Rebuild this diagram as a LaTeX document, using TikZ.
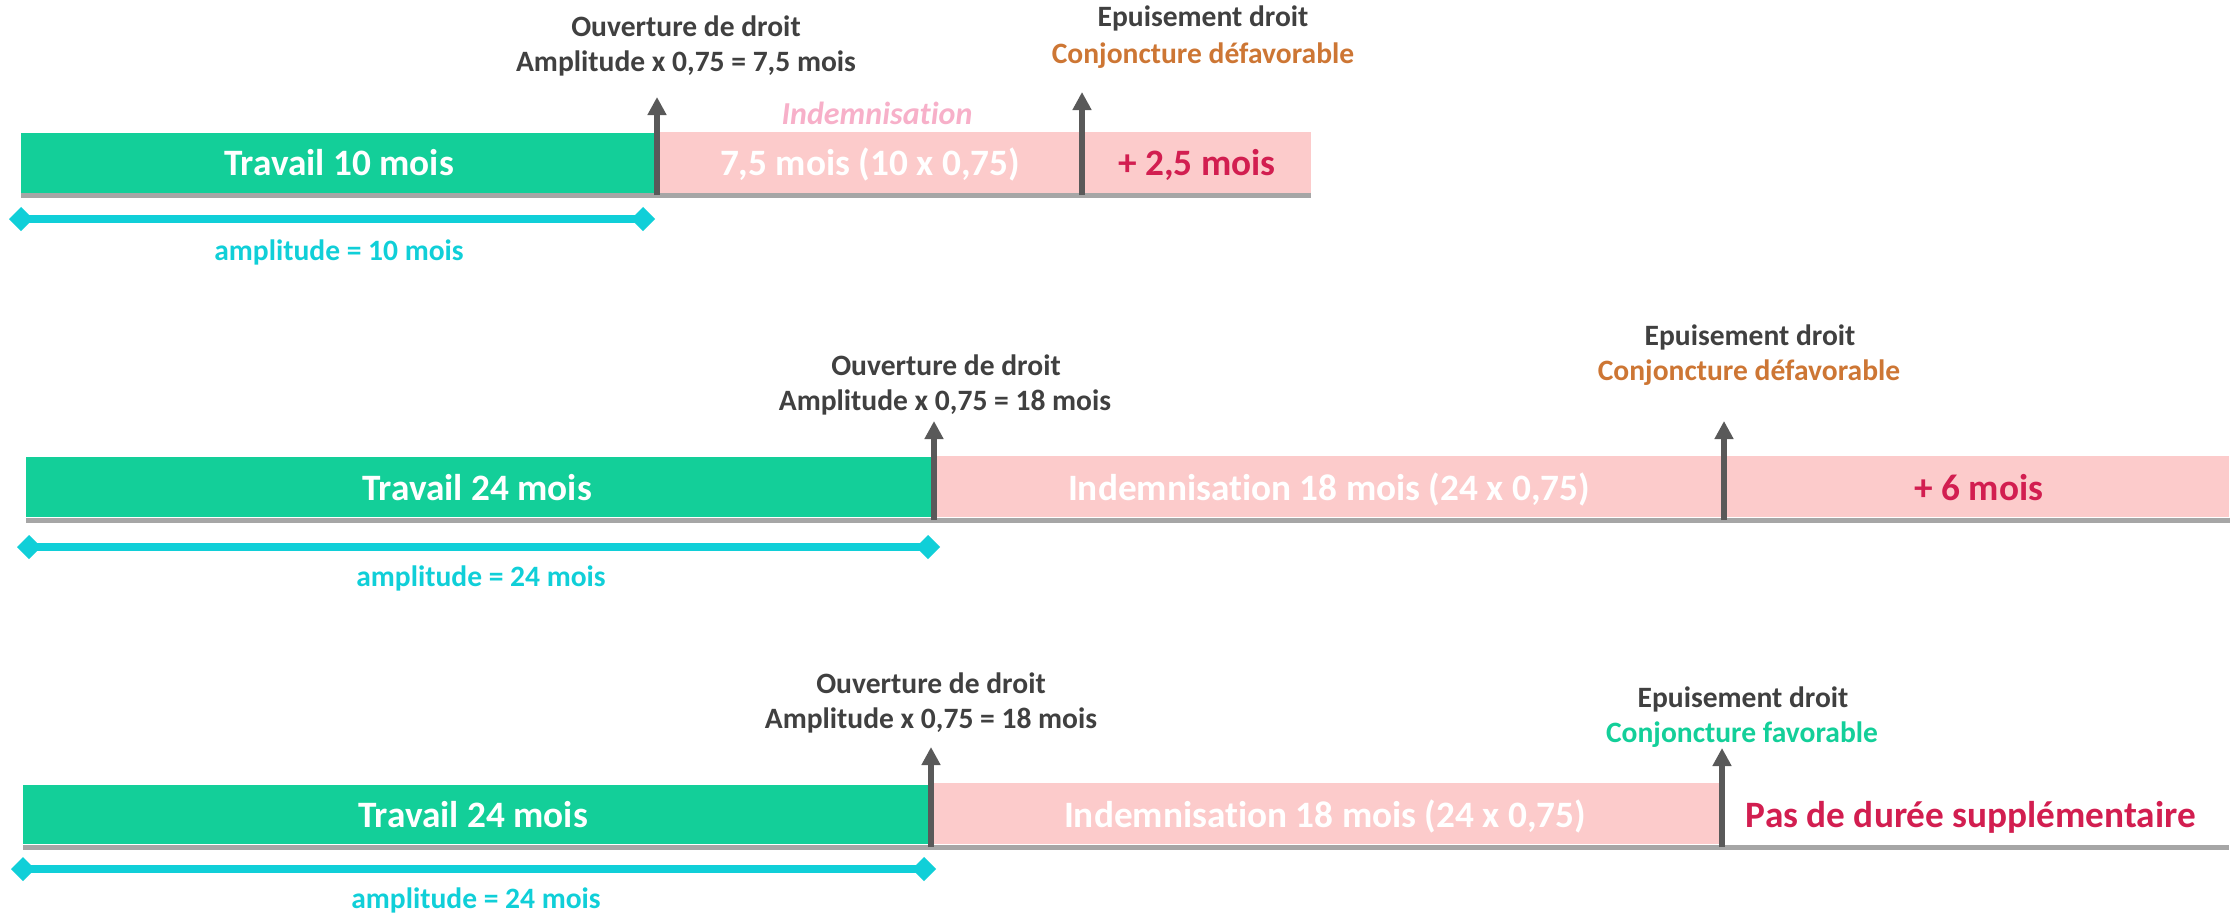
\documentclass[tikz,border=0pt]{standalone}
\usepackage{fontspec}
\setmainfont{Carlito}[Ligatures=NoCommon]
\usetikzlibrary{arrows.meta}
\definecolor{travail}{RGB}{19,207,153}
\definecolor{indem}{RGB}{252,203,203}
\definecolor{indemtxt}{RGB}{247,176,201}
\definecolor{plus}{RGB}{210,30,80}
\definecolor{defav}{RGB}{205,118,52}
\definecolor{ampl}{RGB}{16,207,216}
\definecolor{texte}{RGB}{64,64,64}
\definecolor{fleche}{RGB}{89,89,89}
\definecolor{axe}{RGB}{166,166,166}

\begin{document}
\begin{tikzpicture}[x=0.01cm, y=-0.01cm,
  gros/.style={font=\fontsize{10.6}{12}\selectfont\bfseries, anchor=base, inner sep=0pt, text=white},
  lab/.style={font=\fontsize{8.4}{10}\selectfont\bfseries, anchor=base, inner sep=0pt, text=texte},
  jalon/.style={draw=fleche, line width=0.06cm, -{Triangle[length=0.18cm,width=0.18cm]}},
  duree/.style={draw=ampl, line width=0.08cm, {Turned Square[length=0.24cm,width=0.24cm]}-{Turned Square[length=0.24cm,width=0.24cm]}},
  ligne/.style={draw=axe, line width=0.05cm}]
  \useasboundingbox (0,0) rectangle (2240,915);

  % 1) travail 10 mois
  \fill[travail] (21,133) rectangle (657,193);
  \fill[indem] (657,132) rectangle (1311,193);
  \draw[ligne] (21,195) -- (1311,195);
  \coordinate (o1b) at (657,195);  \coordinate (o1h) at (657,97);
  \coordinate (e1b) at (1082,195); \coordinate (e1h) at (1082,92);
  \draw[jalon] (o1b) -- (o1h);
  \draw[jalon] (e1b) -- (e1h);
  \node[gros] (trav1) at (339,175) {Travail 10 mois};
  \node[gros] (ind1) at (870,175) {7,5 mois (10 x 0,75)};
  \node[gros, text=plus] (plus1) at (1197,175) {+ 2,5 mois};
  \node[lab, text=indemtxt, font=\fontsize{9.1}{10}\selectfont\bfseries\itshape] (indlab1) at (877,124) {Indemnisation};
  \node[lab] (ouv1) at (686,37) {Ouverture de droit};
  \node[lab] (calc1) at (686,71) {Amplitude x 0,75 = 7,5 mois};
  \node[lab] (epu1) at (1203,27) {Epuisement droit};
  \node[lab, text=defav] (conj1) at (1203,63) {Conjoncture défavorable};
  \coordinate (a1g) at (9,219); \coordinate (a1d) at (655,219);
  \draw[duree] (a1g) -- (a1d);
  \node[lab, text=ampl] (amp1) at (339,260) {amplitude = 10 mois};

  % 2) travail 24 mois, conjoncture defavorable
  \fill[travail] (26,457) rectangle (934,517);
  \fill[indem] (934,456) rectangle (2229,517);
  \draw[ligne] (26,520) -- (2230,520);
  \coordinate (o2b) at (934,520);  \coordinate (o2h) at (934,421);
  \coordinate (e2b) at (1724,520); \coordinate (e2h) at (1724,421);
  \draw[jalon] (o2b) -- (o2h);
  \draw[jalon] (e2b) -- (e2h);
  \node[gros] (trav2) at (477,500) {Travail 24 mois};
  \node[gros] (ind2) at (1329,500) {Indemnisation 18 mois (24 x 0,75)};
  \node[gros, text=plus] (plus2) at (1979,500) {+ 6 mois};
  \node[lab] (ouv2) at (946,375) {Ouverture de droit};
  \node[lab] (calc2) at (945,410) {Amplitude x 0,75 = 18 mois};
  \node[lab] (epu2) at (1750,345) {Epuisement droit};
  \node[lab, text=defav] (conj2) at (1749,380) {Conjoncture défavorable};
  \coordinate (a2g) at (17,547); \coordinate (a2d) at (940,547);
  \draw[duree] (a2g) -- (a2d);
  \node[lab, text=ampl] (amp2) at (481,586) {amplitude = 24 mois};

  % 3) travail 24 mois, conjoncture favorable
  \fill[travail] (23,785) rectangle (931,844);
  \fill[indem] (931,783) rectangle (1719,844);
  \draw[ligne] (23,847) -- (2229,847);
  \coordinate (o3b) at (931,847);  \coordinate (o3h) at (931,747);
  \coordinate (e3b) at (1722,847); \coordinate (e3h) at (1722,748);
  \draw[jalon] (o3b) -- (o3h);
  \draw[jalon] (e3b) -- (e3h);
  \node[gros] (trav3) at (473,827) {Travail 24 mois};
  \node[gros] (ind3) at (1325,827) {Indemnisation 18 mois (24 x 0,75)};
  \node[gros, text=plus] (pas3) at (1971,827) {Pas de durée supplémentaire};
  \node[lab] (ouv3) at (931,693) {Ouverture de droit};
  \node[lab] (calc3) at (931,728) {Amplitude x 0,75 = 18 mois};
  \node[lab] (epu3) at (1743,707) {Epuisement droit};
  \node[lab, text=travail] (conj3) at (1742,742) {Conjoncture favorable};
  \coordinate (a3g) at (11,869); \coordinate (a3d) at (936,869);
  \draw[duree] (a3g) -- (a3d);
  \node[lab, text=ampl] (amp3) at (476,908) {amplitude = 24 mois};
\end{tikzpicture}
\end{document}
